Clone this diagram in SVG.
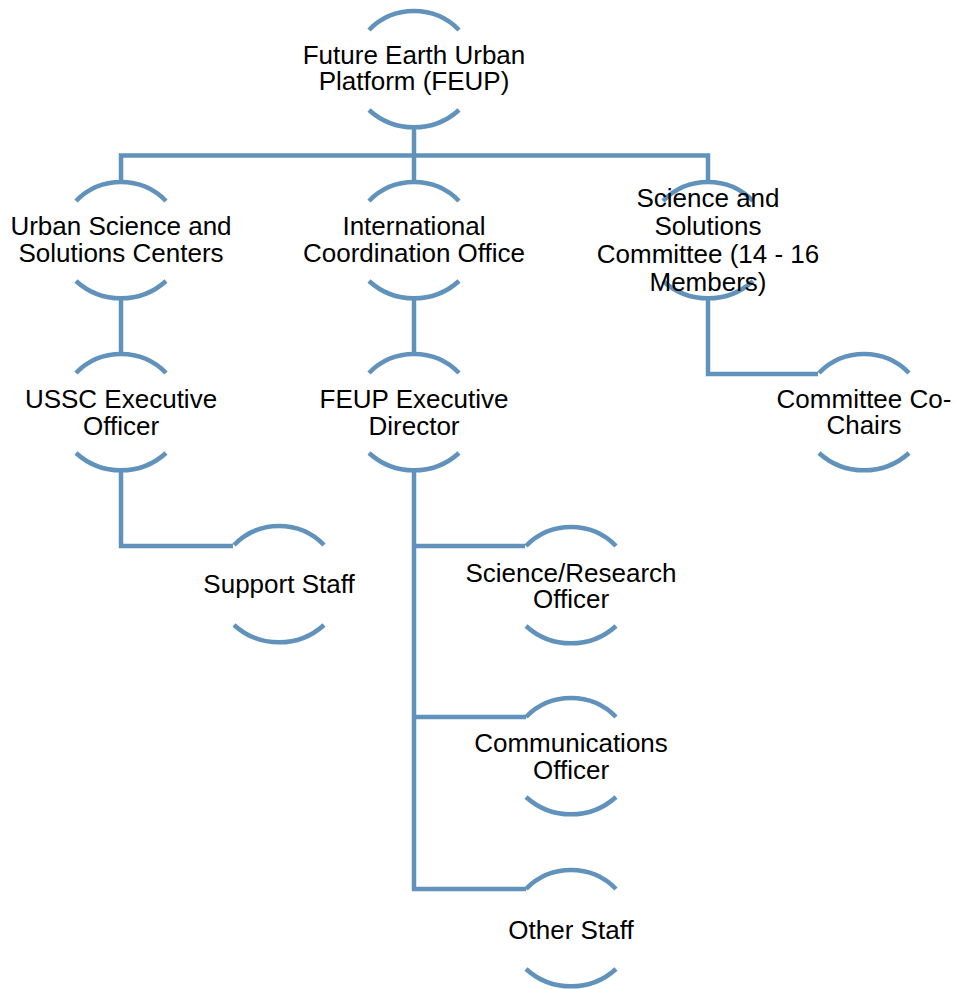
<svg xmlns="http://www.w3.org/2000/svg" width="956" height="989" viewBox="0 0 956 989">
<style>
.arc{fill:none;stroke:#6092bb;stroke-width:4.5}
.con{fill:none;stroke:#6092bb;stroke-width:4.5;stroke-linejoin:miter}
text{font-family:"Liberation Sans",Arial,sans-serif;font-size:26px;fill:#000;text-anchor:middle}
</style>
<defs>
<path id="ring" d="M -45 -39 A 63 63 0 0 1 45 -39 M -45 41 A 67 67 0 0 0 45 41"/>
</defs>
<g id="connectors">
<path class="con" d="M 414 126 V 155.5 M 121 181 V 155.5 H 708 V 181 M 414 155.5 V 181"/>
<path class="con" d="M 121 299 V 353"/>
<path class="con" d="M 414 299 V 353"/>
<path class="con" d="M 708 299 V 374 H 818"/>
<path class="con" d="M 121 471 V 546 H 233"/>
<path class="con" d="M 525 546 H 414 V 889 H 526 M 414 717 H 526 M 414 471 V 546"/>
</g>
<g id="n-feup"><use href="#ring" class="arc" x="414" y="69"/><text x="414" y="63.5">Future Earth Urban</text><text x="414" y="89.5">Platform (FEUP)</text></g>
<g id="n-ussc"><use href="#ring" class="arc" x="121" y="240"/><text x="121" y="235">Urban Science and</text><text x="121" y="262">Solutions Centers</text></g>
<g id="n-ico"><use href="#ring" class="arc" x="414" y="240"/><text x="414" y="235">International</text><text x="414" y="262">Coordination Office</text></g>
<g id="n-ssc"><use href="#ring" class="arc" x="708" y="240"/><text x="708" y="207">Science and</text><text x="708" y="235">Solutions</text><text x="708" y="263">Committee (14 - 16</text><text x="708" y="291">Members)</text></g>
<g id="n-usscexec"><use href="#ring" class="arc" x="121" y="412"/><text x="121" y="408">USSC Executive</text><text x="121" y="435">Officer</text></g>
<g id="n-feupexec"><use href="#ring" class="arc" x="414" y="412"/><text x="414" y="408">FEUP Executive</text><text x="414" y="435">Director</text></g>
<g id="n-cochairs"><use href="#ring" class="arc" x="864" y="412"/><text x="864" y="407.5">Committee Co-</text><text x="864" y="434">Chairs</text></g>
<g id="n-support"><use href="#ring" class="arc" x="279" y="584"/><text x="279" y="593">Support Staff</text></g>
<g id="n-science"><use href="#ring" class="arc" x="571" y="585"/><text x="571" y="581.5">Science/Research</text><text x="571" y="607.5">Officer</text></g>
<g id="n-comms"><use href="#ring" class="arc" x="571" y="756"/><text x="571" y="752">Communications</text><text x="571" y="778.5">Officer</text></g>
<g id="n-other"><use href="#ring" class="arc" x="571" y="928"/><text x="571" y="938.5">Other Staff</text></g>
</svg>
